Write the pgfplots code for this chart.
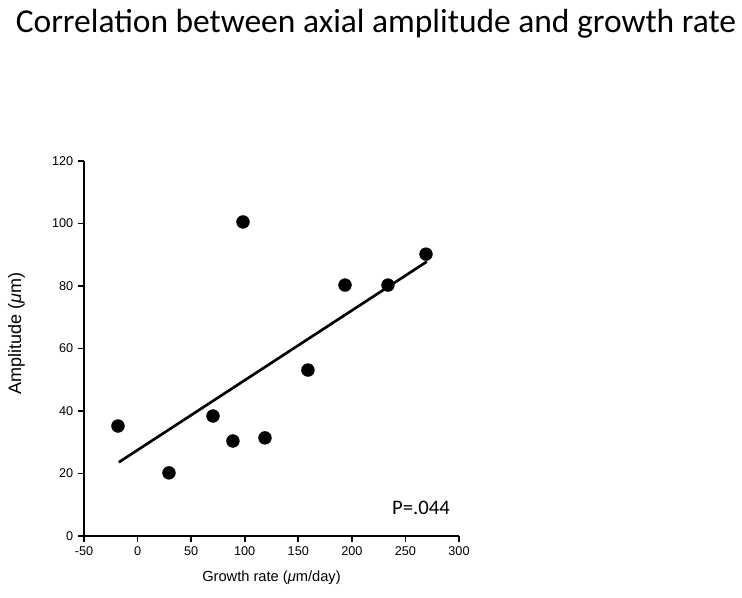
\documentclass[border=0pt]{standalone}
\usepackage{pgfplots}
\pgfplotsset{compat=1.18}
\usepackage{fontspec}
\setmainfont{Liberation Sans}
\newfontfamily\calibri{Carlito}
\begin{document}
\begin{tikzpicture}[x=0.75pt,y=0.75pt]
\path (0,0) rectangle (742,597);
\node[font=\calibri\fontsize{25.1}{30}\selectfont] at (376,573) {Correlation between axial amplitude and growth rate};
\begin{axis}[
  at={(63pt,45.75pt)}, anchor=south west,
  scale only axis, width=281.25pt, height=281.25pt,
  xmin=-50, xmax=300, ymin=0, ymax=120,
  xtick={-50,0,...,300}, ytick={0,20,...,120},
  axis lines=left, axis line style={-, line width=1.5pt},
  tick style={line width=1.2pt, black},
  tick align=outside, major tick length=4.5pt,
  /pgf/number format/assume math mode=true,
  ticklabel style={font=\fontsize{9.5}{11}\selectfont},
  xlabel={Growth rate ({\itshape μ}m/day)},
  ylabel={Amplitude ({\itshape μ}m)},
  xlabel style={font=\fontsize{11}{13}\selectfont, at={(axis description cs:0.5,-0.112)}, anchor=center},
  ylabel style={font=\fontsize{13.5}{16}\selectfont, at={(axis description cs:-0.18,0.541)}, anchor=center},
  clip=false,
]
\addplot[only marks, mark=*, mark size=4.8pt, black] coordinates {
  (-18.3,35.2) (29.3,20.2) (70.4,38.4) (89,30.4) (118.9,31.4)
  (98.4,100.5) (159,53.1) (193.6,80.3) (233.7,80.3) (269.2,90.2)
};
\addplot[black, line width=2pt] coordinates {(-17.5,23.6) (270,87.8)};
\node[font=\calibri\fontsize{15.5}{18}\selectfont] at (axis cs:264.5,9.0) {P=.044};
\end{axis}
\end{tikzpicture}
\end{document}
